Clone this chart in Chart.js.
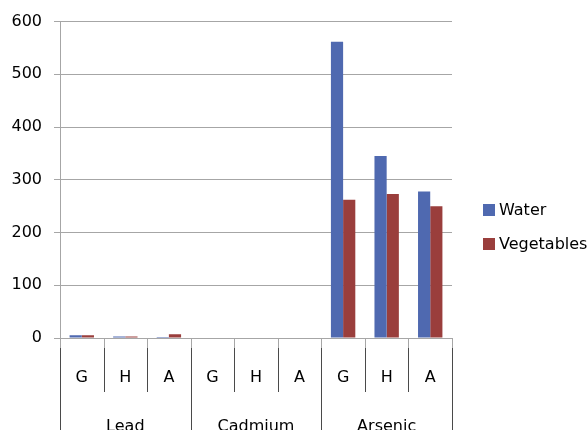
<!DOCTYPE html>
<html>
<head>
<meta charset="utf-8">
<script src="https://cdn.jsdelivr.net/npm/chart.js@4"></script>
<style>
  html, body { margin: 0; padding: 0; background: #ffffff; }
  #wrap { width: 588px; height: 430px; }
</style>
</head>
<body>
<div id="wrap"><canvas id="c" width="588" height="430"></canvas></div>
<script>
// Metal groups and sampling sites along the x axis
const metals = ['Lead', 'Cadmium', 'Arsenic'];
const sites = ['G', 'H', 'A'];
const siteLabels = ['G', 'H', 'A', 'G', 'H', 'A', 'G', 'H', 'A'];

// Series values, one per site within each metal
const waterValues = [5, 3, 2, 0, 0, 0, 562, 345, 278];
const vegetableValues = [5, 3, 7, 0, 0, 0, 262, 273, 250];

// Y axis ticks
const yMin = 0;
const yMax = 600;
const yStep = 100;

const FONT = 'DejaVu Sans, sans-serif';
const TEXT = '#000000';
const GRID = '#a6a6a6';
const SEP = '#4a4a4a';

// Draws the metal group row, the category separators and the legend
const groupAxisPlugin = {
  id: 'groupAxis',
  afterDraw(chart) {
    const ctx = chart.ctx;
    const x = chart.scales.x;
    const area = chart.chartArea;
    const n = siteLabels.length;
    const step = (x.right - x.left) / n;
    ctx.save();
    ctx.lineWidth = 1;
    for (let i = 0; i <= n; i++) {
      const px = Math.round(x.left + i * step) + 0.5;
      const groupEdge = i % sites.length === 0;
      // short light tick under the axis
      ctx.strokeStyle = GRID;
      ctx.beginPath();
      ctx.moveTo(px, area.bottom + 1);
      ctx.lineTo(px, area.bottom + 10);
      ctx.stroke();
      // darker separator
      ctx.strokeStyle = SEP;
      ctx.beginPath();
      ctx.moveTo(px, area.bottom + 10);
      ctx.lineTo(px, groupEdge ? chart.height : area.bottom + 54);
      ctx.stroke();
    }
    ctx.fillStyle = TEXT;
    ctx.font = '16px ' + FONT;
    ctx.textAlign = 'center';
    ctx.textBaseline = 'middle';
    metals.forEach((m, g) => {
      const cx = x.left + (g * sites.length + sites.length / 2) * step;
      ctx.fillText(m, cx, area.bottom + 89);
    });

    // legend
    const lx = 483;
    const ys = [210, 244];
    ctx.textAlign = 'left';
    chart.data.datasets.forEach((ds, i) => {
      ctx.fillStyle = ds.backgroundColor;
      ctx.fillRect(lx, ys[i] - 6, 12, 12);
      ctx.fillStyle = TEXT;
      ctx.fillText(ds.label, lx + 16, ys[i] + 1);
    });
    ctx.restore();
  }
};

new Chart(document.getElementById('c'), {
  type: 'bar',
  data: {
    labels: siteLabels,
    datasets: [
      { label: 'Water', data: waterValues, backgroundColor: '#4f69b0', borderWidth: 0 },
      { label: 'Vegetables', data: vegetableValues, backgroundColor: '#9a3e3c', borderWidth: 0 }
    ]
  },
  options: {
    responsive: false,
    animation: false,
    events: [],
    layout: { padding: { top: 20, right: 136, left: 0, bottom: 0 } },
    plugins: {
      legend: { display: false },
      tooltip: { enabled: false }
    },
    datasets: {
      bar: { categoryPercentage: 0.56, barPercentage: 1.0 }
    },
    scales: {
      x: {
        offset: true,
        grid: { display: false },
        border: { display: true, color: GRID, width: 1 },
        ticks: {
          color: TEXT,
          font: { family: FONT, size: 16 },
          padding: 22,
          maxRotation: 0,
          autoSkip: false
        },
        afterFit(scale) { scale.height = 92; }
      },
      y: {
        min: yMin,
        max: yMax,
        grid: { color: GRID, lineWidth: 1, tickLength: 6, drawTicks: true },
        border: { display: true, color: GRID, width: 1 },
        ticks: {
          stepSize: yStep,
          color: TEXT,
          font: { family: FONT, size: 16 },
          padding: 12
        },
        afterFit(scale) { scale.width = 60; }
      }
    }
  },
  plugins: [groupAxisPlugin]
});
</script>
</body>
</html>
